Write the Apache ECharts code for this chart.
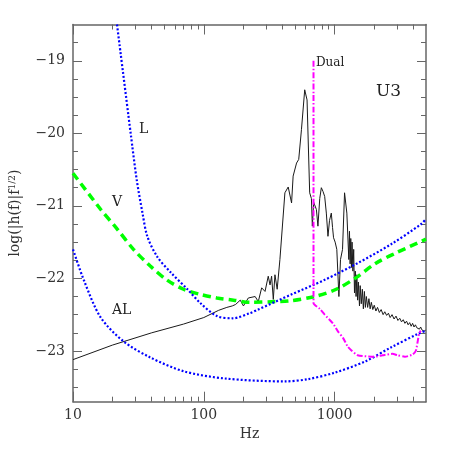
<!DOCTYPE html>
<html>
<head>
<meta charset="utf-8">
<script src="https://cdn.jsdelivr.net/npm/echarts@6.0.0/dist/echarts.min.js"></script>
<style>
    html, body { margin: 0; padding: 0; background: #fff; }
    #chart { width: 450px; height: 450px; }
</style>
</head>
<body>
<div id="chart"></div>
<script>
// ticks
const xMajorTicks = [10, 100, 1000];
const xMinorTicks = [20, 30, 40, 50, 60, 70, 80, 90, 200, 300, 400, 500, 600, 700, 800, 900, 2000, 3000, 4000];
const yMajorTicks = [-23, -22, -21, -20, -19];
const yMinorTicks = [-23.5, -23.25, -22.75, -22.5, -22.25, -21.75, -21.5, -21.25, -20.75, -20.5, -20.25, -19.75, -19.5, -19.25, -18.75];

// [Hz, log value]
const curveL = [[21.7, -18.5], [27.6, -20.0], [30.7, -20.64], [34, -21.1], [37, -21.42], [44, -21.7], [56, -21.92],
    [75, -22.15], [94, -22.34], [126, -22.52], [167, -22.55], [225, -22.48], [260, -22.43], [470, -22.22],
    [840, -22.02], [1500, -21.79], [2700, -21.53], [4600, -21.25], [5000, -21.18]];
const curveAL = [[10, -21.6], [12.2, -22.04], [16.3, -22.54], [24.4, -22.87], [39, -23.09], [70, -23.28],
    [145, -23.38], [417, -23.42], [623, -23.39], [1000, -23.3], [1690, -23.15], [2710, -22.95], [4280, -22.77], [5000, -22.72]];
const curveV = [[10, -20.55], [16.3, -21.05], [22, -21.33], [29, -21.6], [39, -21.83], [52, -22.02], [70, -22.15],
    [94, -22.22], [126, -22.27], [169, -22.3], [225, -22.33], [350, -22.32], [455, -22.31], [705, -22.25],
    [1030, -22.15], [1460, -21.99], [2070, -21.79], [2940, -21.65], [5000, -21.46]];
const curveDual = [[690, -19.0], [690, -22.34], [770, -22.42], [840, -22.5], [970, -22.62], [1060, -22.73],
    [1160, -22.82], [1260, -22.94], [1340, -22.99], [1500, -23.06], [2000, -23.08], [2330, -23.06], [2770, -23.04],
    [3030, -23.06], [3450, -23.08], [3950, -23.05], [4180, -23.0], [4300, -22.89], [4430, -22.76], [4560, -22.72]];
const curveU3 = [[10, -23.12], [20, -22.92], [40, -22.75], [70, -22.63], [100, -22.54], [130, -22.44], [150, -22.4],
    [165, -22.38], [175, -22.36], [190, -22.3], [201, -22.38], [219, -22.27], [247, -22.25], [261, -22.32],
    [277, -22.13], [294, -22.18], [311, -21.97], [321, -22.09], [330, -21.97], [340, -22.29], [350, -21.95],
    [364, -22.15], [382, -21.74], [417, -20.82], [442, -20.74], [469, -20.96], [482, -20.59], [512, -20.41],
    [532, -20.36], [558, -19.95], [591, -19.4], [616, -19.54], [645, -20.82], [665, -20.9], [676, -21.28],
    [692, -20.95], [705, -20.94], [726, -21.05], [746, -21.28], [770, -20.9], [792, -20.75], [815, -20.8],
    [840, -20.87], [865, -21.1], [890, -21.42], [915, -21.2], [944, -21.1], [965, -21.3], [982, -21.44],
    [1010, -21.5], [1040, -21.6], [1079, -22.25], [1110, -21.74], [1150, -21.6], [1192, -20.82], [1241, -21.1],
    [1285, -21.74], [1300, -21.35], [1315, -21.8], [1330, -21.45], [1345, -21.85], [1360, -21.5], [1380, -21.9],
    [1400, -21.6], [1420, -22.2], [1440, -21.9], [1460, -22.25], [1480, -21.95], [1500, -22.3], [1520, -22.05],
    [1550, -22.38], [1570, -22.1], [1600, -22.35], [1630, -22.15], [1660, -22.42], [1690, -22.18], [1720, -22.4],
    [1750, -22.25], [1790, -22.4], [1830, -22.28], [1870, -22.42], [1910, -22.33], [1960, -22.43], [2010, -22.37],
    [2070, -22.45], [2130, -22.4], [2200, -22.47], [2270, -22.43], [2350, -22.5], [2420, -22.46], [2500, -22.51],
    [2580, -22.48], [2660, -22.54], [2750, -22.5], [2850, -22.56], [2950, -22.52], [3050, -22.58], [3150, -22.55],
    [3250, -22.6], [3350, -22.57], [3450, -22.62], [3550, -22.59], [3650, -22.64], [3750, -22.61], [3850, -22.66],
    [3950, -22.62], [4050, -22.67], [4150, -22.64], [4250, -22.68], [4350, -22.66], [4450, -22.7], [4550, -22.67],
    [4650, -22.71], [4750, -22.69], [4850, -22.73], [4950, -22.71], [5000, -22.73]];

const serif = 'DejaVu Serif';
const axisColor = '#666';
const textColor = '#333';

const chart = echarts.init(document.getElementById('chart'), null, { renderer: 'canvas' });

// x 轴：主刻度 + 次刻度，上下各一套
const xAxisBase = { type: 'log', logBase: 10, min: 10, max: 5000, splitLine: { show: false }, gridIndex: 0 };
const xAxes = [
    {
        ...xAxisBase,
        position: 'bottom',
        name: 'Hz',
        nameLocation: 'middle',
        nameGap: 24,
        nameTextStyle: { fontFamily: serif, fontSize: 14, color: textColor },
        axisLine: { show: true, onZero: false, lineStyle: { color: axisColor, width: 1.5 } },
        axisTick: { show: true, inside: true, length: 10, customValues: xMajorTicks, lineStyle: { color: axisColor } },
        axisLabel: { show: true, customValues: xMajorTicks, margin: 7, fontFamily: serif, fontSize: 14, color: textColor, formatter: v => String(v) },
    },
    {
        ...xAxisBase,
        position: 'bottom',
        axisLine: { show: false, onZero: false },
        axisTick: { show: true, inside: true, length: 5, customValues: xMinorTicks, lineStyle: { color: axisColor } },
        axisLabel: { show: false },
    },
    {
        ...xAxisBase,
        position: 'top',
        axisLine: { show: true, onZero: false, lineStyle: { color: axisColor, width: 1.5 } },
        axisTick: { show: true, inside: true, length: 10, customValues: xMajorTicks, lineStyle: { color: axisColor } },
        axisLabel: { show: false },
    },
    {
        ...xAxisBase,
        position: 'top',
        axisLine: { show: false, onZero: false },
        axisTick: { show: true, inside: true, length: 5, customValues: xMinorTicks, lineStyle: { color: axisColor } },
        axisLabel: { show: false },
    },
];

const yAxisBase = { type: 'value', min: -23.7, max: -18.5, splitLine: { show: false }, gridIndex: 0 };
const yAxes = [
    {
        ...yAxisBase,
        position: 'left',
        name: 'log(|h(f)|f{s|1/2})',
        nameLocation: 'middle',
        nameGap: 50,
        nameRotate: 90,
        nameTextStyle: {
            fontFamily: serif,
            fontSize: 14,
            color: textColor,
            rich: {
                s: { fontFamily: serif, fontSize: 9, color: textColor, verticalAlign: 'top', padding: [0, 0, 6, 0] },
            },
        },
        axisLine: { show: true, onZero: false, lineStyle: { color: axisColor, width: 1.5 } },
        axisTick: { show: true, inside: true, length: 9, customValues: yMajorTicks, lineStyle: { color: axisColor } },
        axisLabel: {
            show: true,
            customValues: yMajorTicks,
            margin: 8,
            fontFamily: serif,
            fontSize: 14,
            color: textColor,
            formatter: v => String(v).replace('-', '\u2212'),
        },
    },
    {
        ...yAxisBase,
        position: 'left',
        axisLine: { show: false, onZero: false },
        axisTick: { show: true, inside: true, length: 5, customValues: yMinorTicks, lineStyle: { color: axisColor } },
        axisLabel: { show: false },
    },
    {
        ...yAxisBase,
        position: 'right',
        axisLine: { show: true, onZero: false, lineStyle: { color: axisColor, width: 1.5 } },
        axisTick: { show: true, inside: true, length: 9, customValues: yMajorTicks, lineStyle: { color: axisColor } },
        axisLabel: { show: false },
    },
    {
        ...yAxisBase,
        position: 'right',
        axisLine: { show: false, onZero: false },
        axisTick: { show: true, inside: true, length: 5, customValues: yMinorTicks, lineStyle: { color: axisColor } },
        axisLabel: { show: false },
    },
];

const lineSeries = (data, lineStyle, smooth) => ({
    type: 'line',
    data,
    xAxisIndex: 0,
    yAxisIndex: 0,
    showSymbol: false,
    symbol: 'none',
    smooth,
    lineStyle,
    clip: true,
    silent: true,
});

const annotation = (text, left, top, fontSize) => ({
    type: 'text',
    left,
    top,
    style: { text, fontFamily: serif, fontSize, fill: '#222' },
});

const option = {
    animation: false,
    backgroundColor: '#fff',
    grid: { left: 72, right: 24, top: 24.5, bottom: 48.3, containLabel: false },
    xAxis: xAxes,
    yAxis: yAxes,
    series: [
        lineSeries(curveU3, { color: '#1a1a1a', width: 1 }, false),
        lineSeries(curveV, { color: '#00ff00', width: 3.5, type: [8, 5] }, 0.3),
        lineSeries(curveL, { color: '#0000ff', width: 2.2, type: [2, 2] }, 0.3),
        lineSeries(curveAL, { color: '#0000ff', width: 2.2, type: [2, 2] }, 0.3),
        lineSeries(curveDual, { color: '#ff00ff', width: 2, type: [6, 2, 1.5, 2] }, 0.2),
    ],
    graphic: [
        annotation('L', 139, 122, 14),
        annotation('V', 112, 195, 14),
        annotation('AL', 112, 303, 14),
        annotation('Dual', 316, 57, 12),
        annotation('U3', 376, 83, 17),
    ],
};
chart.setOption(option);
</script>
</body>
</html>
